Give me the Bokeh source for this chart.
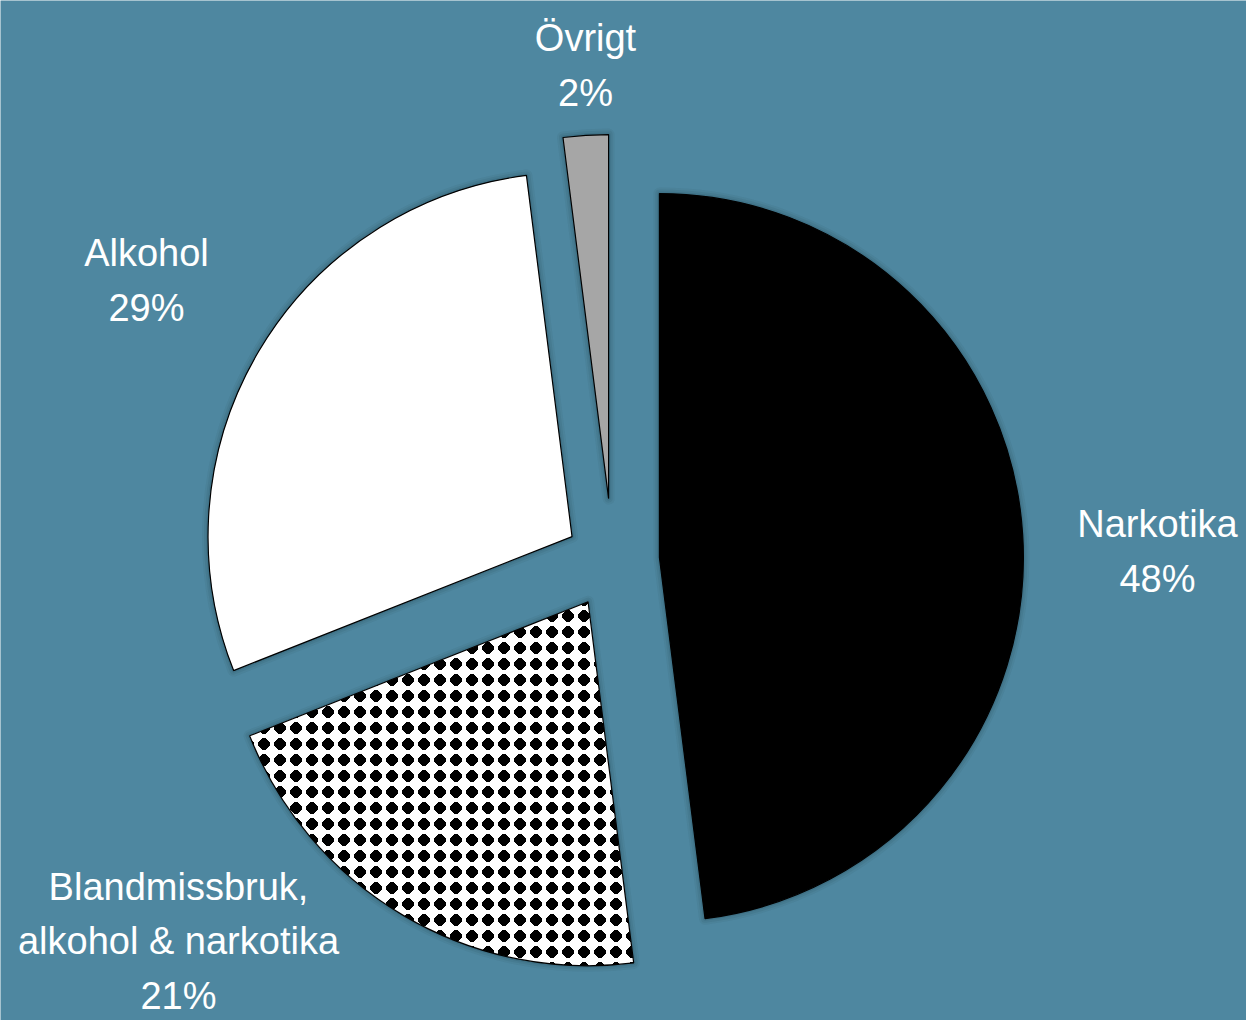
import math
import zlib
import struct
import base64
from bokeh.plotting import figure
from bokeh.models import ColumnDataSource, Range1d, ImageURLTexture
from bokeh.core.properties import value
from bokeh.embed import file_html
from bokeh.resources import INLINE

# ---- data ----
categories = ["Narkotika", "Blandmissbruk, alkohol & narkotika", "Alkohol", "Övrigt"]
shares = [48, 21, 29, 2]
label_lines = [["Narkotika"], ["Blandmissbruk,", "alkohol & narkotika"], ["Alkohol"], ["Övrigt"]]

# ---- style / layout ----
fill_colors = ["#000000", "#ffffff", "#ffffff", "#a6a6a6"]
hatches = [" ", "diamonds", " ", " "]
explode = [47, 48, 47, 62]
BG = "#4e87a0"
W, H = 1246, 1020
cx_ref, cy_ref = 612, 560
R = 364
label_anchor_ref = [(1157, 551), (178, 941), (146, 280), (585, 65)]


def to_data(xr, yr):
    return xr, H - yr


def diamond_tile(n=16):
    rows = []
    c = (n - 1) / 2.0
    for yy in range(n):
        row = bytearray()
        for xx in range(n):
            dx, dy = abs(xx - c), abs(yy - c)
            on = (dx + dy <= 7) and max(dx, dy) <= 5.5
            row += b"\x00\x00\x00" if on else b"\xff\xff\xff"
        rows.append(bytes(row))
    raw = b"".join(b"\x00" + r for r in rows)

    def chunk(t, d):
        return struct.pack(">I", len(d)) + t + d + struct.pack(">I", zlib.crc32(t + d) & 0xffffffff)

    data = (b"\x89PNG\r\n\x1a\n" + chunk(b"IHDR", struct.pack(">IIBBBBB", n, n, 8, 2, 0, 0, 0))
            + chunk(b"IDAT", zlib.compress(raw)) + chunk(b"IEND", b""))
    return "data:image/png;base64," + base64.b64encode(data).decode()


cx, cy = to_data(cx_ref, cy_ref)
total = float(sum(shares))
xs, ys, starts, ends = [], [], [], []
cum = 0.0
for s, d in zip(shares, explode):
    t0 = cum / total * 360.0
    t1 = (cum + s) / total * 360.0
    cum += s
    tm = (t0 + t1) / 2.0
    phi = math.radians(90.0 - tm)
    xs.append(cx + d * math.cos(phi))
    ys.append(cy + d * math.sin(phi))
    starts.append(math.radians(90.0 - t1))
    ends.append(math.radians(90.0 - t0))

src = ColumnDataSource(dict(x=xs, y=ys, start=starts, end=ends, fill=fill_colors,
                            hatch=hatches, cat=categories))

p = figure(width=W, height=H, output_backend="svg", toolbar_location=None,
           x_range=Range1d(0, W), y_range=Range1d(0, H), min_border=0)
p.axis.visible = False
p.grid.visible = False
p.outline_line_color = None
p.background_fill_color = BG
p.border_fill_color = BG

# soft glow / shadow
for lw, a in [(12, 0.05), (8, 0.07), (4, 0.10)]:
    p.wedge(x="x", y="y", radius=R, start_angle="start", end_angle="end", source=src,
            fill_color=None, line_color="#0b2430", line_alpha=a, line_width=lw,
            line_join="round")

p.wedge(x="x", y="y", radius=R, start_angle="start", end_angle="end", source=src,
        fill_color="fill", line_color="#000000", line_width=1.2,
        hatch_pattern="hatch", hatch_alpha=1.0,
        hatch_extra={"diamonds": ImageURLTexture(url=diamond_tile(), repetition="repeat")})

# labels
lx, ly, lt = [], [], []
for lines, s, (ax, ay) in zip(label_lines, shares, label_anchor_ref):
    x, y = to_data(ax, ay)
    lx.append(x)
    ly.append(y)
    lt.append("\n".join(lines + [f"{s}%"]))
p.text(x=lx, y=ly, text=lt, text_color="#ffffff", text_align="center",
       text_baseline="middle", text_font=value("Liberation Sans"),
       text_font_size="38px", text_line_height=1.3)

open("out.html", "w").write(file_html(p, INLINE))
